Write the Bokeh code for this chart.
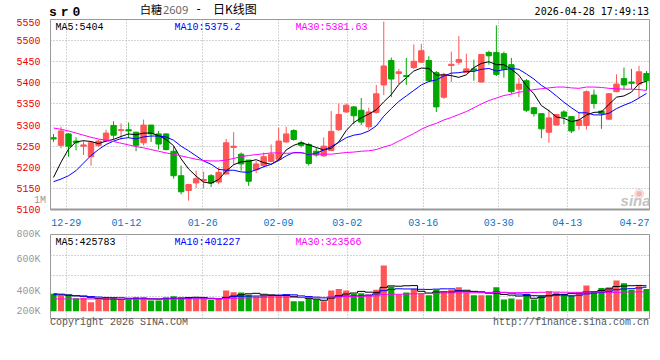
from bokeh.plotting import figure
from bokeh.layouts import column
from bokeh.models import FixedTicker, Label, Range1d, Div
from bokeh.embed import file_html
from bokeh.resources import INLINE

# ---------------- data ----------------
OPEN = [5270, 5252, 5279, 5262, 5250, 5225, 5252, 5262, 5299, 5287,
        5289, 5283, 5258, 5300, 5279, 5279, 5238, 5180, 5145, 5163,
        5168, 5180, 5165, 5184, 5247, 5231, 5217, 5194, 5204, 5214,
        5219, 5260, 5287, 5258, 5254, 5238, 5227, 5240, 5289, 5331,
        5343, 5335, 5296, 5330, 5395, 5453, 5422, 5417, 5436, 5449,
        5453, 5424, 5366, 5441, 5449, 5424, 5433, 5402, 5472, 5472,
        5469, 5443, 5385, 5405, 5341, 5327, 5283, 5300, 5331, 5320,
        5299, 5299, 5371, 5333, 5314, 5379, 5410, 5402, 5397, 5422]
HIGH = [5279, 5296, 5281, 5271, 5262, 5262, 5265, 5289, 5309, 5304,
        5306, 5284, 5313, 5300, 5286, 5280, 5250, 5204, 5161, 5192,
        5190, 5184, 5200, 5267, 5283, 5235, 5217, 5215, 5235, 5254,
        5294, 5296, 5290, 5263, 5258, 5246, 5271, 5333, 5351, 5351,
        5345, 5364, 5341, 5395, 5545, 5460, 5433, 5459, 5491, 5492,
        5463, 5428, 5424, 5474, 5511, 5469, 5455, 5467, 5476, 5536,
        5474, 5459, 5412, 5409, 5343, 5327, 5337, 5325, 5335, 5321,
        5331, 5382, 5384, 5335, 5376, 5420, 5436, 5433, 5440, 5428]
LOW = [5260, 5245, 5225, 5240, 5229, 5204, 5248, 5261, 5266, 5266,
       5269, 5238, 5252, 5260, 5242, 5240, 5173, 5136, 5121, 5151,
       5150, 5153, 5160, 5184, 5206, 5192, 5156, 5186, 5200, 5212,
       5215, 5258, 5263, 5247, 5204, 5225, 5225, 5238, 5286, 5329,
       5302, 5300, 5289, 5327, 5371, 5366, 5397, 5395, 5433, 5447,
       5405, 5331, 5362, 5402, 5443, 5424, 5405, 5401, 5443, 5416,
       5412, 5374, 5366, 5331, 5320, 5269, 5258, 5299, 5302, 5281,
       5289, 5289, 5339, 5291, 5312, 5378, 5385, 5385, 5364, 5382]
CLOSE = [5267, 5286, 5250, 5258, 5253, 5258, 5262, 5281, 5276, 5289,
         5286, 5252, 5300, 5279, 5255, 5242, 5180, 5142, 5159, 5173,
         5171, 5163, 5188, 5258, 5250, 5208, 5167, 5208, 5225, 5231,
         5262, 5279, 5266, 5252, 5209, 5229, 5250, 5285, 5325, 5347,
         5322, 5307, 5331, 5374, 5440, 5409, 5426, 5415, 5451, 5476,
         5405, 5343, 5420, 5444, 5455, 5433, 5430, 5467, 5464, 5420,
         5432, 5379, 5397, 5335, 5327, 5291, 5317, 5325, 5320, 5286,
         5312, 5379, 5351, 5327, 5374, 5397, 5395, 5399, 5426, 5405]
MA5 = [5176, 5212, 5243, 5260, 5263, 5261, 5256, 5262, 5266, 5273,
       5279, 5277, 5281, 5281, 5275, 5266, 5251, 5220, 5196, 5179,
       5165, 5162, 5171, 5191, 5206, 5213, 5214, 5218, 5211, 5207,
       5218, 5241, 5252, 5258, 5253, 5247, 5241, 5245, 5260, 5287,
       5306, 5317, 5326, 5336, 5355, 5372, 5396, 5412, 5428, 5435,
       5434, 5418, 5419, 5417, 5413, 5419, 5436, 5446, 5450, 5443,
       5443, 5432, 5418, 5393, 5374, 5346, 5334, 5319, 5316, 5308,
       5312, 5324, 5330, 5331, 5349, 5366, 5369, 5378, 5398, 5404]
MA10 = [5166, 5172, 5180, 5192, 5210, 5228, 5242, 5254, 5262, 5268,
        5270, 5267, 5272, 5274, 5274, 5272, 5264, 5250, 5239, 5227,
        5215, 5207, 5195, 5193, 5193, 5189, 5188, 5194, 5201, 5207,
        5216, 5227, 5235, 5235, 5230, 5233, 5241, 5249, 5259, 5270,
        5276, 5279, 5286, 5298, 5321, 5339, 5356, 5369, 5382, 5395,
        5403, 5407, 5416, 5423, 5424, 5427, 5427, 5432, 5434, 5428,
        5431, 5434, 5432, 5421, 5409, 5394, 5383, 5369, 5354, 5341,
        5329, 5329, 5324, 5324, 5328, 5339, 5347, 5354, 5364, 5375]
MA30 = [5293, 5290, 5286, 5281, 5276, 5271, 5267, 5264, 5261, 5257,
        5253, 5249, 5246, 5242, 5238, 5234, 5231, 5227, 5223, 5219,
        5216, 5215, 5215, 5217, 5221, 5225, 5228, 5230, 5232, 5234,
        5234, 5233, 5234, 5234, 5232, 5231, 5231, 5231, 5233, 5235,
        5236, 5238, 5239, 5242, 5248, 5253, 5262, 5271, 5280, 5290,
        5298, 5304, 5312, 5318, 5325, 5332, 5341, 5350, 5358, 5364,
        5370, 5373, 5378, 5380, 5384, 5386, 5388, 5390, 5390, 5388,
        5387, 5390, 5390, 5389, 5387, 5386, 5385, 5385, 5384, 5382]
VOLUME_K = [290, 262, 273, 217, 223, 150, 201, 223, 223, 190,
            201, 234, 234, 178, 178, 234, 251, 234, 234, 206,
            206, 190, 206, 346, 318, 312, 273, 245, 268, 268,
            268, 268, 167, 167, 212, 201, 167, 346, 373, 346,
            290, 301, 279, 357, 764, 412, 279, 312, 373, 290,
            268, 357, 329, 357, 401, 307, 268, 268, 268, 401,
            195, 212, 195, 290, 195, 268, 334, 312, 290, 268,
            312, 429, 334, 390, 401, 513, 468, 357, 418, 373]
VOL_MA5_K = [290, 285, 270, 258, 253, 225, 213, 203, 204, 197,
             208, 214, 216, 207, 205, 212, 215, 215, 226, 232,
             226, 214, 208, 231, 253, 274, 291, 299, 283, 273,
             264, 263, 248, 228, 216, 203, 183, 219, 260, 287,
             304, 331, 318, 315, 398, 423, 418, 425, 428, 333,
             304, 320, 323, 320, 342, 350, 332, 320, 302, 302,
             280, 269, 254, 259, 217, 232, 256, 280, 280, 294,
             303, 322, 327, 347, 373, 413, 421, 426, 431, 426]
VOL_MA10_K = [275, 272, 268, 258, 250, 244, 236, 230, 227, 225,
              217, 214, 210, 206, 201, 210, 215, 216, 217, 219,
              219, 215, 212, 229, 243, 250, 253, 254, 257, 263,
              269, 277, 274, 256, 245, 234, 223, 234, 244, 252,
              254, 257, 269, 288, 343, 364, 375, 372, 372, 366,
              364, 369, 374, 374, 338, 327, 326, 322, 311, 322,
              315, 301, 287, 281, 260, 256, 263, 267, 270, 256,
              268, 289, 304, 314, 334, 358, 372, 377, 389, 401]
VOL_MA30_K = [205, 205, 204, 204, 204, 204, 203, 203, 203, 203,
              203, 203, 204, 204, 204, 204, 205, 205, 205, 206,
              206, 207, 208, 211, 215, 219, 223, 227, 231, 236,
              235, 235, 232, 230, 230, 231, 230, 234, 239, 244,
              247, 250, 251, 257, 277, 283, 283, 286, 291, 293,
              296, 301, 305, 306, 308, 308, 308, 309, 309, 313,
              311, 309, 310, 314, 313, 316, 321, 320, 317, 315,
              315, 320, 321, 322, 310, 314, 320, 322, 323, 324]

DATE_LABELS = ["12-29", "01-12", "01-26", "02-09", "03-02", "03-16", "03-30", "04-13", "04-27"]
DATE_TICK_POS = [1.69, 9.73, 19.89, 29.98, 39.13, 49.25, 59.33, 68.44, 77.4]
PRICE_TICKS = [5100, 5150, 5200, 5250, 5300, 5350, 5400, 5450, 5500, 5550]
VOL_TICK_LABELS = ["800K", "600K", "400K", "200K"]
ONE_M_LABEL = "1M"

TITLE_NAME = "白糖"
TITLE_CODE = "2609"
TITLE_DASH = "-"
TITLE_KIND = "日K线图"
SYMBOL = "sr0"
STAMP = "2026-04-28 17:49:13"
MA_TEXT = ["MA5:5404", "MA10:5375.2", "MA30:5381.63"]
VMA_TEXT = ["MA5:425783", "MA10:401227", "MA30:323566"]
COPYRIGHT = "Copyright 2026 SINA.COM"
SITE = "http://finance.sina.com.cn"

# ---------------- derived ----------------
N = len(CLOSE)
idx = list(range(N))
RED, GREEN = "#FF5555", "#00A800"
colors = [RED if c >= o else GREEN for o, c in zip(OPEN, CLOSE)]
body_top = [max(o, c) for o, c in zip(OPEN, CLOSE)]
body_bot = [min(o, c) for o, c in zip(OPEN, CLOSE)]
VOLUME = [v * 1000 for v in VOLUME_K]
VOL_MA5 = [v * 1000 for v in VOL_MA5_K]
VOL_MA10 = [v * 1000 for v in VOL_MA10_K]
VOL_MA30 = [v * 1000 for v in VOL_MA30_K]

X0, X1 = -0.4, 79.4
VOL_LO, VOL_HI = -122073, 1282609
VOL_TICK_POS = [VOL_HI, 872910, 337793, 3344]
VOL_GRID_POS = [931400, 597000, 252000]

MONO = "Liberation Mono"
GRID = "#aaaaaa"
FRAME = "#999999"
W = 652


def quiet_axis(ax):
    ax.axis_line_color = None
    ax.major_tick_line_color = None
    ax.minor_tick_line_color = None
    ax.major_label_text_font = MONO
    ax.major_label_text_font_size = "10px"


def style(p):
    p.background_fill_color = "white"
    p.border_fill_color = "white"
    p.outline_line_color = FRAME
    p.outline_line_width = 1
    for ax in list(p.xaxis) + list(p.yaxis):
        quiet_axis(ax)
    p.grid.grid_line_color = GRID
    p.grid.grid_line_dash = "1 2"
    p.grid.grid_line_width = 1


def lab(p, x, y, text, color="#000000", size="10px", font=MONO, align="left", dy=0, fstyle="normal"):
    p.add_layout(Label(x=x, y=y, text=text, text_color=color, text_font_size=size,
                       text_font=font, text_align=align, text_baseline="alphabetic",
                       y_offset=dy, text_font_style=fstyle))


def span(text, left=None, right=None, top=0, font="10px/10px 'Liberation Mono'", color="#000000", extra=""):
    pos = ("left:%spx;" % left) if left is not None else ("right:%spx;" % right)
    return ('<span style="position:absolute;%stop:%spx;font:%s;color:%s;white-space:nowrap;z-index:5;%s">%s</span>'
            % (pos, top, font, color, extra, text))


# ---------------- header ----------------
header_html = ('<div style="position:relative;width:%dpx;height:18px;overflow:visible;">' % W
               + span(SYMBOL, left=49, top=6, font="bold 13px/13px 'Liberation Mono'", extra="letter-spacing:4px;")
               + span(TITLE_NAME, left=140, top=3.9, font="11px/11px 'Noto Sans CJK SC'")
               + span(TITLE_CODE, left=163, top=3.5, font="11px/11px 'Noto Sans'", color="#666666")
               + span(TITLE_DASH, left=195, top=2.6, font="12px/12px 'DejaVu Sans Mono'")
               + span(TITLE_KIND, left=213, top=3, font="12px/12px 'Noto Sans CJK SC'")
               + span(STAMP, right=3, top=6.5, font="10px/10px 'DejaVu Sans Mono'")
               + '</div>')
header = Div(text=header_html, width=W, height=18, margin=0, styles={"overflow": "visible"})

# ---------------- price panel ----------------
p1 = figure(width=W, height=210, x_range=Range1d(X0, X1), y_range=Range1d(5100, 5550),
            output_backend="svg", toolbar_location=None,
            min_border_left=50, min_border_right=3, min_border_top=1, min_border_bottom=15)
style(p1)
p1.xaxis.ticker = FixedTicker(ticks=DATE_TICK_POS)
p1.xaxis.major_label_overrides = dict(zip(DATE_TICK_POS, DATE_LABELS))
p1.xaxis.major_label_text_color = "#0077CC"
p1.xaxis.major_label_standoff = 3
p1.xaxis.axis_line_color = FRAME
p1.xaxis.axis_line_width = 2
p1.xgrid.ticker = FixedTicker(ticks=DATE_TICK_POS[:-1])
p1.yaxis.ticker = FixedTicker(ticks=PRICE_TICKS)
p1.yaxis.major_label_text_color = "#EE0000"
p1.yaxis.major_label_standoff = 4
p1.ygrid.ticker = FixedTicker(ticks=PRICE_TICKS[1:-1])

p1.segment(x0=idx, y0=LOW, x1=idx, y1=HIGH, line_color=colors, line_width=1)
p1.vbar(x=idx, width=0.72, top=body_top, bottom=body_bot, fill_color=colors, line_color=colors, line_width=1)
p1.line(idx, MA5, line_color="#000000", line_width=1)
p1.line(idx, MA10, line_color="#0000FF", line_width=1)
p1.line(idx, MA30, line_color="#FF00FF", line_width=1)

lab(p1, 0.27, 5550, MA_TEXT[0], color="#000000", dy=-8)
lab(p1, 16.12, 5550, MA_TEXT[1], color="#0000FF", dy=-8)
lab(p1, 32.24, 5550, MA_TEXT[2], color="#FF00FF", dy=-8)
lab(p1, 77.3, 5100, "◉", color="#f5b5bd", size="12px", font="DejaVu Sans", align="left", dy=17)
lab(p1, 79.55, 5100, "sina", color="#c4c4c4", size="15px", font="Liberation Sans", align="right", dy=9, fstyle="bold italic")

# ---------------- volume panel ----------------
p2 = figure(width=W, height=91, x_range=p1.x_range, y_range=Range1d(VOL_LO, VOL_HI),
            output_backend="svg", toolbar_location=None,
            min_border_left=50, min_border_right=3, min_border_top=6, min_border_bottom=1)
style(p2)
p2.xaxis.visible = False
p2.xgrid.ticker = FixedTicker(ticks=DATE_TICK_POS[:-1])
p2.yaxis.ticker = FixedTicker(ticks=VOL_TICK_POS)
p2.yaxis.major_label_overrides = dict(zip(VOL_TICK_POS, VOL_TICK_LABELS))
p2.yaxis.major_label_text_color = "#999999"
p2.yaxis.major_label_standoff = 4
p2.ygrid.ticker = FixedTicker(ticks=VOL_GRID_POS)

p2.vbar(x=idx, width=0.82, top=VOLUME, bottom=0, fill_color=colors, line_color=None)
p2.step(idx, VOL_MA5, mode="center", line_color="#000000", line_width=1)
p2.step(idx, VOL_MA10, mode="center", line_color="#0000FF", line_width=1)
p2.step(idx, VOL_MA30, mode="center", line_color="#FF00FF", line_width=1)

lab(p2, 0.27, VOL_HI, VMA_TEXT[0], color="#000000", dy=-8)
lab(p2, 16.12, VOL_HI, VMA_TEXT[1], color="#0000FF", dy=-8)
lab(p2, 32.24, VOL_HI, VMA_TEXT[2], color="#FF00FF", dy=-8)

# ---------------- footer (also carries the grey "1M" mark left of the price panel) ----------------
footer_html = ('<div style="position:relative;width:%dpx;height:33px;overflow:visible;">' % W
               + span(COPYRIGHT, left=50, top=-1.4, color="#555555")
               + span(SITE, right=3, top=-1.4, color="#555555")
               + span(ONE_M_LABEL, right=606, top=-122.7, color="#999999")
               + '</div>')
footer = Div(text=footer_html, width=W, height=33, margin=0, styles={"overflow": "visible", "z-index": "5"})

layout = column(header, p1, p2, footer)
open("out.html", "w").write(file_html(layout, INLINE))
